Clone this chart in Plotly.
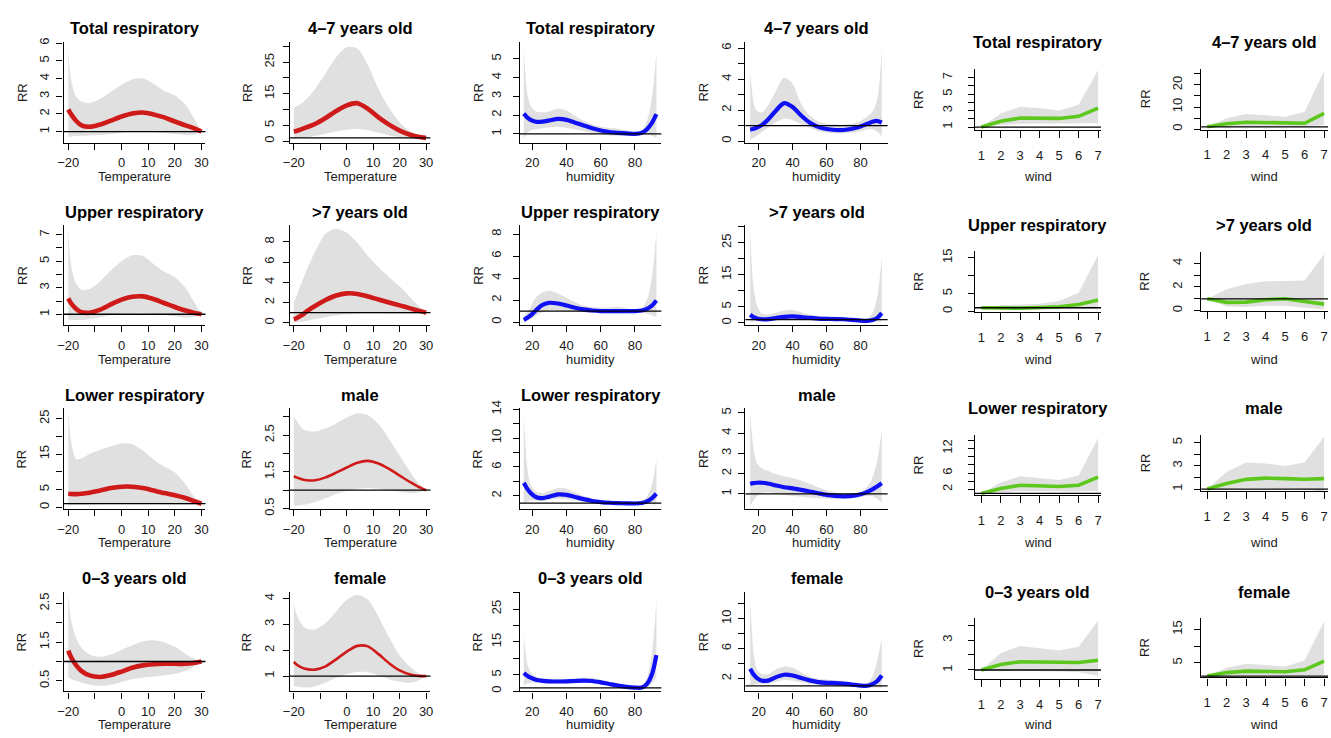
import plotly.graph_objects as go

FIG_W, FIG_H = 1331, 738
FONT = "Liberation Sans, Arial, Helvetica, sans-serif"
TXT = "#1a1a1a"
BAND = "#e0e0e0"
RED = "#cf1a1a"
BLUE = "#1010f5"
GREEN = "#5cc81e"

# ---------------- x grids and tick labels ----------------
temperature = [-20, -19, -17, -15, -12, -8, -4, 0, 4, 8, 12, 16, 20, 24, 27, 30]
humidity = [15, 16, 17, 19, 22, 26, 30, 35, 40, 45, 50, 55, 60, 65, 70, 75, 80, 84, 87, 90, 92.5]
wind = [1, 2, 3, 4, 5, 6, 7]

temp_tick_vals = [-20, -10, 0, 10, 20, 30]
temp_tick_text = ["\u221220", "", "0", "10", "20", "30"]
hum_tick_vals = [20, 40, 60, 80]
hum_tick_text = ["20", "40", "60", "80"]
wind_tick_vals = [1, 2, 3, 4, 5, 6, 7]
wind_tick_text = ["1", "2", "3", "4", "5", "6", "7"]

# ---------------- temperature panels ----------------
temp_total_rr = [2.25, 2.0, 1.6, 1.35, 1.27, 1.4, 1.62, 1.85, 2.02, 2.08, 1.97, 1.8, 1.57, 1.35, 1.2, 1.0]
temp_total_lo = [0.7, 0.72, 0.75, 0.76, 0.78, 0.8, 0.86, 0.94, 1.0, 1.02, 0.98, 0.92, 0.86, 0.8, 0.82, 1.0]
temp_total_hi = [5.8, 4.0, 2.95, 2.7, 2.6, 2.85, 3.25, 3.65, 3.95, 4.0, 3.7, 3.3, 3.05, 2.5, 1.8, 1.0]

temp_upper_rr = [2.2, 1.85, 1.4, 1.15, 1.12, 1.35, 1.75, 2.1, 2.32, 2.35, 2.15, 1.85, 1.55, 1.28, 1.12, 1.0]
temp_upper_lo = [0.6, 0.58, 0.56, 0.55, 0.62, 0.78, 0.95, 1.05, 1.1, 1.1, 1.05, 0.95, 0.85, 0.75, 0.8, 1.0]
temp_upper_hi = [7.6, 4.8, 3.3, 2.85, 2.9, 3.5, 4.3, 5.0, 5.45, 5.4, 4.8, 4.2, 3.8, 3.0, 2.0, 1.0]

temp_lower_rr = [3.8, 3.75, 3.7, 3.8, 4.1, 4.7, 5.4, 5.8, 5.8, 5.4, 4.7, 4.0, 3.4, 2.6, 1.8, 1.0]
temp_lower_lo = [0.5, 0.55, 0.6, 0.65, 0.75, 0.85, 0.95, 1.0, 1.05, 1.0, 0.95, 0.85, 0.75, 0.7, 0.8, 1.0]
temp_lower_hi = [27, 19, 13.5, 13.8, 15, 16.2, 17.2, 18, 17.8, 16, 13.5, 11.5, 9.8, 6.5, 3.2, 1.0]

temp_age03_rr = [1.28, 1.12, 0.9, 0.75, 0.64, 0.6, 0.65, 0.74, 0.84, 0.9, 0.93, 0.94, 0.94, 0.94, 0.96, 1.0]
temp_age03_lo = [0.6, 0.55, 0.5, 0.45, 0.4, 0.37, 0.4, 0.47, 0.54, 0.58, 0.61, 0.64, 0.68, 0.76, 0.86, 1.0]
temp_age03_hi = [2.75, 2.1, 1.6, 1.35, 1.18, 1.12, 1.18, 1.3, 1.42, 1.52, 1.55, 1.5, 1.38, 1.2, 1.08, 1.0]

temp_age47_rr = [3.0, 3.2, 3.8, 4.4, 5.4, 7.3, 9.5, 11.3, 12.0, 10.2, 7.5, 5.2, 3.3, 2.0, 1.4, 1.0]
temp_age47_lo = [0.8, 0.9, 1.05, 1.2, 1.6, 2.3, 3.0, 3.6, 3.8, 3.4, 2.6, 1.8, 1.2, 0.8, 0.75, 1.0]
temp_age47_hi = [10.5, 11, 12, 13.5, 16.5, 21.5, 26.5, 29.7, 29.3, 24, 16.5, 10.5, 6, 3, 1.8, 1.0]

temp_age7p_rr = [0.35, 0.45, 0.75, 1.15, 1.65, 2.25, 2.7, 2.9, 2.85, 2.6, 2.3, 2.0, 1.72, 1.42, 1.2, 1.0]
temp_age7p_lo = [0.05, 0.07, 0.12, 0.2, 0.35, 0.55, 0.72, 0.83, 0.9, 0.92, 0.92, 0.9, 0.88, 0.85, 0.88, 1.0]
temp_age7p_hi = [2.0, 2.6, 4.0, 5.3, 7.0, 8.8, 9.3, 8.9, 7.9, 6.6, 5.5, 4.5, 3.6, 2.5, 1.7, 1.0]

temp_male_rr = [1.38, 1.35, 1.3, 1.27, 1.27, 1.35, 1.48, 1.62, 1.75, 1.8, 1.73, 1.58, 1.4, 1.22, 1.1, 1.0]
temp_male_lo = [0.58, 0.58, 0.6, 0.62, 0.68, 0.78, 0.9, 0.98, 1.04, 1.06, 1.04, 1.0, 0.96, 0.92, 0.94, 1.0]
temp_male_hi = [3.0, 2.9, 2.7, 2.62, 2.6, 2.68, 2.82, 2.98, 3.1, 3.05, 2.8, 2.4, 1.95, 1.5, 1.2, 1.0]

temp_female_rr = [1.55, 1.45, 1.33, 1.27, 1.25, 1.38, 1.65, 1.95, 2.17, 2.15, 1.85, 1.5, 1.22, 1.06, 1.01, 1.0]
temp_female_lo = [0.62, 0.6, 0.57, 0.56, 0.6, 0.75, 0.93, 1.08, 1.16, 1.15, 1.02, 0.88, 0.78, 0.74, 0.82, 1.0]
temp_female_hi = [3.8, 3.4, 3.0, 2.82, 2.8, 3.05, 3.5, 3.95, 4.15, 3.95, 3.3, 2.5, 1.8, 1.35, 1.12, 1.0]

# ---------------- humidity panels ----------------
hum_total_rr = [2.08, 1.98, 1.88, 1.75, 1.65, 1.65, 1.72, 1.8, 1.75, 1.6, 1.45, 1.3, 1.18, 1.1, 1.06, 1.03, 1.0, 1.06, 1.25, 1.6, 2.05]
hum_total_lo = [0.75, 0.9, 1.05, 1.2, 1.25, 1.3, 1.35, 1.38, 1.32, 1.25, 1.15, 1.05, 0.98, 0.92, 0.9, 0.88, 0.9, 0.95, 0.98, 0.9, 0.8]
hum_total_hi = [5.6, 4.2, 3.2, 2.5, 2.2, 2.15, 2.2, 2.35, 2.25, 1.95, 1.7, 1.5, 1.38, 1.32, 1.28, 1.2, 1.08, 1.18, 1.7, 3.0, 5.4]

hum_upper_rr = [0.2, 0.28, 0.38, 0.6, 1.05, 1.55, 1.75, 1.68, 1.5, 1.3, 1.15, 1.05, 1.0, 1.0, 1.0, 1.0, 1.0, 1.05, 1.2, 1.5, 1.95]
hum_upper_lo = [0.05, 0.08, 0.12, 0.25, 0.55, 0.9, 1.05, 1.05, 1.0, 0.95, 0.9, 0.85, 0.8, 0.78, 0.78, 0.8, 0.85, 0.85, 0.75, 0.6, 0.45]
hum_upper_hi = [0.5, 0.7, 0.9, 1.4, 2.2, 2.7, 2.85, 2.6, 2.2, 1.8, 1.5, 1.35, 1.3, 1.32, 1.38, 1.25, 1.15, 1.3, 2.0, 4.2, 8.2]

hum_lower_rr = [3.8, 3.4, 3.0, 2.4, 1.85, 1.7, 1.9, 2.2, 2.15, 1.85, 1.55, 1.3, 1.15, 1.05, 1.0, 0.97, 0.95, 1.02, 1.25, 1.7, 2.3]
hum_lower_lo = [0.8, 1.0, 1.2, 1.35, 1.3, 1.3, 1.45, 1.6, 1.55, 1.4, 1.2, 1.05, 0.95, 0.88, 0.82, 0.8, 0.8, 0.85, 0.9, 0.85, 0.8]
hum_lower_hi = [13, 9, 6, 3.6, 2.6, 2.4, 2.7, 3.1, 3.0, 2.5, 2.0, 1.65, 1.45, 1.35, 1.3, 1.25, 1.2, 1.35, 1.9, 3.6, 7.0]

hum_age03_rr = [5.5, 5.1, 4.7, 4.1, 3.5, 3.15, 3.0, 2.95, 3.0, 3.1, 3.2, 3.1, 2.7, 2.2, 1.7, 1.3, 1.08, 1.1, 2.2, 5.3, 11.0]
hum_age03_lo = [1.7, 2.0, 2.3, 2.6, 2.6, 2.45, 2.35, 2.3, 2.35, 2.45, 2.55, 2.45, 2.1, 1.65, 1.25, 0.95, 0.78, 0.8, 1.2, 2.4, 4.3]
hum_age03_hi = [17, 12, 8.5, 5.8, 4.4, 3.9, 3.8, 3.75, 3.8, 3.95, 4.1, 4.0, 3.5, 2.9, 2.3, 1.8, 1.5, 1.7, 4.0, 12, 28]

hum_age47_rr = [0.75, 0.77, 0.8, 0.87, 1.05, 1.45, 1.95, 2.45, 2.2, 1.65, 1.2, 0.92, 0.78, 0.72, 0.72, 0.8, 0.95, 1.12, 1.25, 1.3, 1.2]
hum_age47_lo = [0.1, 0.15, 0.22, 0.35, 0.6, 0.9, 1.2, 1.45, 1.35, 1.1, 0.85, 0.65, 0.55, 0.5, 0.5, 0.55, 0.65, 0.75, 0.78, 0.6, 0.3]
hum_age47_hi = [4.6, 3.3, 2.5, 1.95, 1.85, 2.4, 3.2, 4.1, 3.7, 2.4, 1.65, 1.28, 1.12, 1.06, 1.06, 1.12, 1.3, 1.6, 1.9, 2.8, 6.0]

hum_age7p_rr = [2.5, 2.1, 1.75, 1.35, 1.1, 1.15, 1.45, 1.85, 2.0, 1.8, 1.5, 1.3, 1.2, 1.15, 1.1, 0.9, 0.65, 0.6, 0.85, 1.6, 3.0]
hum_age7p_lo = [0.25, 0.3, 0.35, 0.4, 0.45, 0.55, 0.75, 0.95, 1.0, 0.95, 0.85, 0.75, 0.7, 0.65, 0.6, 0.45, 0.3, 0.28, 0.3, 0.35, 0.4]
hum_age7p_hi = [29, 18, 11, 5.5, 2.8, 2.6, 3.1, 3.8, 4.0, 3.3, 2.6, 2.2, 2.0, 1.9, 1.8, 1.5, 1.25, 1.4, 3.0, 8.5, 21]

hum_male_rr = [1.5, 1.52, 1.53, 1.55, 1.55, 1.5, 1.42, 1.33, 1.27, 1.2, 1.12, 1.03, 0.95, 0.9, 0.88, 0.9, 0.98, 1.1, 1.22, 1.38, 1.52]
hum_male_lo = [0.4, 0.55, 0.68, 0.9, 1.05, 1.08, 1.02, 0.95, 0.9, 0.86, 0.82, 0.78, 0.76, 0.75, 0.75, 0.77, 0.85, 0.9, 0.88, 0.75, 0.55]
hum_male_hi = [5.0, 4.0, 3.2, 2.5, 2.25, 2.12, 1.98, 1.87, 1.78, 1.65, 1.5, 1.33, 1.18, 1.07, 1.02, 1.03, 1.08, 1.35, 1.8, 2.7, 4.2]

hum_female_rr = [3.3, 2.9, 2.55, 2.05, 1.7, 1.75, 2.15, 2.5, 2.4, 2.05, 1.75, 1.52, 1.42, 1.38, 1.3, 1.18, 1.05, 1.03, 1.25, 1.7, 2.4]
hum_female_lo = [0.8, 1.0, 1.15, 1.3, 1.25, 1.3, 1.55, 1.8, 1.7, 1.5, 1.3, 1.18, 1.1, 1.02, 0.96, 0.9, 0.85, 0.82, 0.8, 0.78, 0.72]
hum_female_hi = [12.5, 8.5, 5.5, 3.2, 2.6, 2.6, 3.2, 3.6, 3.45, 2.85, 2.25, 1.95, 1.85, 1.75, 1.65, 1.45, 1.3, 1.4, 2.2, 4.5, 7.5]

# ---------------- wind panels ----------------
wind_total_rr = [1.0, 1.7, 2.1, 2.1, 2.05, 2.3, 3.3]
wind_total_lo = [1.0, 1.25, 1.4, 1.4, 1.4, 1.4, 1.45]
wind_total_hi = [1.0, 2.65, 3.45, 3.3, 3.0, 3.7, 7.9]

wind_upper_rr = [1.0, 0.9, 0.9, 1.05, 1.3, 1.9, 3.15]
wind_upper_lo = [1.0, 0.5, 0.45, 0.5, 0.6, 0.7, 0.65]
wind_upper_hi = [1.0, 1.7, 1.9, 2.1, 2.9, 5.2, 15.8]

wind_lower_rr = [1.0, 2.2, 3.0, 2.9, 2.7, 3.0, 5.0]
wind_lower_lo = [1.0, 1.35, 1.55, 1.55, 1.5, 1.5, 1.6]
wind_lower_hi = [1.0, 3.7, 5.2, 4.8, 4.3, 5.4, 14.6]

wind_age03_rr = [1.0, 1.37, 1.55, 1.56, 1.52, 1.5, 1.65]
wind_age03_lo = [1.0, 0.92, 0.95, 0.95, 0.9, 0.85, 0.61]
wind_age03_hi = [1.0, 2.13, 2.6, 2.45, 2.3, 2.55, 4.3]

wind_age47_rr = [1.0, 2.4, 3.1, 2.9, 2.4, 2.6, 7.1]
wind_age47_lo = [1.0, 0.8, 1.2, 1.2, 0.9, 0.8, 1.9]
wind_age47_hi = [1.0, 4.9, 6.8, 6.2, 5.6, 7.9, 26.4]

wind_age7p_rr = [1.0, 0.7, 0.72, 0.92, 1.0, 0.75, 0.55]
wind_age7p_lo = [1.0, 0.35, 0.3, 0.4, 0.4, 0.25, 0.1]
wind_age7p_hi = [1.0, 1.8, 2.26, 2.48, 2.5, 2.55, 4.77]

wind_male_rr = [1.0, 1.48, 1.84, 1.95, 1.9, 1.85, 1.9]
wind_male_lo = [1.0, 1.0, 1.1, 1.1, 1.05, 1.0, 0.75]
wind_male_hi = [1.0, 2.5, 3.3, 3.2, 3.0, 3.3, 5.5]

wind_female_rr = [1.0, 2.06, 2.5, 2.4, 2.3, 2.9, 5.5]
wind_female_lo = [1.0, 1.1, 1.3, 1.3, 1.2, 1.2, 1.3]
wind_female_hi = [1.0, 3.5, 4.7, 4.3, 3.9, 5.7, 17.4]

# ---------------- panel titles ----------------
titles_a = ["Total respiratory", "Upper respiratory", "Lower respiratory", "0\u20133 years old"]
titles_b = ["4\u20137 years old", ">7 years old", "male", "female"]


def yt(vals, labelled):
    return dict(vals=vals, text=[(("%g" % v) if v in labelled else "") for v in vals])


def fx(px):
    return min(max(px / FIG_W, 0.0), 1.0)


def fy(py):
    return 1 - py / FIG_H


# ---------------- layout (pixel geometry) ----------------
TEMP_ROWS = [(33.5, 136.5), (221, 323), (408.3, 511), (596, 697.5)]
TEMP_TITLE_Y = [19.5, 207, 394.3, 581.5]
WIND5_ROWS = [(61, 124), (247.3, 310), (435.7, 496.7), (622.3, 685)]
WIND6_ROWS = [(61, 123.3), (248.3, 309), (435.7, 493), (622.7, 683.3)]
WIND_TITLE_Y = [34, 220.7, 407.7, 595.7]
XLAB_Y = [171.5, 358, 545, 731]

columns = [
    dict(x=temperature, xt=temp_tick_vals, xl=temp_tick_text, xlabel="Temperature", color=RED,
         px=(57, 200), xr=(-21.75, 31.5), rows=TEMP_ROWS, ty=TEMP_TITLE_Y, rrx=15, smooth=True,
         titles=titles_a, lw=[4.6, 4.6, 4.6, 4.6], ystand=2, xstand=2, xticklen=6,
         panels=[(temp_total_rr, temp_total_lo, temp_total_hi, [0.38, 6.08], yt([1, 2, 3, 4, 5, 6], [1, 2, 3, 4, 5, 6])),
                 (temp_upper_rr, temp_upper_lo, temp_upper_hi, [0.19, 7.72], yt([1, 2, 3, 4, 5, 6, 7], [1, 3, 5, 7])),
                 (temp_lower_rr, temp_lower_lo, temp_lower_hi, [-0.47, 27.87], yt([0, 5, 10, 15, 20, 25], [0, 5, 15, 25])),
                 (temp_age03_rr, temp_age03_lo, temp_age03_hi, [0.227, 2.796], yt([0.5, 1, 1.5, 2, 2.5], [0.5, 1.5, 2.5]))]),
    dict(x=temperature, xt=temp_tick_vals, xl=temp_tick_text, xlabel="Temperature", color=RED,
         px=(285, 426.7), xr=(-21.5, 31.65), rows=TEMP_ROWS, ty=TEMP_TITLE_Y, rrx=241.7, smooth=True,
         titles=titles_b, lw=[4.6, 4.6, 2.6, 2.6], ystand=4, xstand=2, xticklen=6,
         panels=[(temp_age47_rr, temp_age47_lo, temp_age47_hi, [-0.46, 31.44], yt([0, 5, 10, 15, 20, 25, 30], [0, 5, 15, 25])),
                 (temp_age7p_rr, temp_age7p_lo, temp_age7p_hi, [-0.22, 9.64], yt([0, 2, 4, 6, 8], [0, 2, 4, 6, 8])),
                 (temp_male_rr, temp_male_lo, temp_male_hi, [0.49, 3.23], yt([0.5, 1, 1.5, 2, 2.5, 3], [0.5, 1.5, 2.5])),
                 (temp_female_rr, temp_female_lo, temp_female_hi, [0.41, 4.25], yt([1, 2, 3, 4], [1, 2, 3, 4]))]),
    dict(x=humidity, xt=hum_tick_vals, xl=hum_tick_text, xlabel="humidity", color=BLUE,
         px=(516.7, 659.3), xr=(12.7, 95.4), rows=TEMP_ROWS, ty=TEMP_TITLE_Y, rrx=474.3, smooth=True,
         titles=titles_a, lw=[4.2, 4.2, 4.2, 4.2], ystand=6, xstand=2, xticklen=6,
         panels=[(hum_total_rr, hum_total_lo, hum_total_hi, [0.54, 5.91], yt([1, 2, 3, 4, 5], [1, 2, 3, 4, 5])),
                 (hum_upper_rr, hum_upper_lo, hum_upper_hi, [-0.27, 8.8], yt([0, 2, 4, 6, 8], [0, 2, 4, 6, 8])),
                 (hum_lower_rr, hum_lower_lo, hum_lower_hi, [0.2, 14.09], yt([2, 4, 6, 8, 10, 12, 14], [2, 6, 10, 14])),
                 (hum_age03_rr, hum_age03_lo, hum_age03_hi, [-0.06, 30.15], yt([0, 5, 10, 15, 20, 25, 30], [0, 5, 15, 25]))]),
    dict(x=humidity, xt=hum_tick_vals, xl=hum_tick_text, xlabel="humidity", color=BLUE,
         px=(744, 887.3), xr=(12.2, 95.95), rows=TEMP_ROWS, ty=TEMP_TITLE_Y, rrx=701.7, smooth=True,
         titles=titles_b, lw=[4.2, 4.2, 4.2, 4.2], ystand=2, xstand=2, xticklen=6,
         panels=[(hum_age47_rr, hum_age47_lo, hum_age47_hi, [-0.09, 6.41], yt([0, 1, 2, 3, 4, 5, 6], [0, 2, 4, 6])),
                 (hum_age7p_rr, hum_age7p_lo, hum_age7p_hi, [-0.7, 30.5], yt([0, 5, 10, 15, 20, 25, 30], [0, 5, 15, 25])),
                 (hum_male_rr, hum_male_lo, hum_male_hi, [0.26, 5.21], yt([1, 2, 3, 4, 5], [1, 2, 3, 4, 5])),
                 (hum_female_rr, hum_female_lo, hum_female_hi, [0.27, 13.58], yt([2, 4, 6, 8, 10, 12], [2, 6, 10]))]),
    dict(x=wind, xt=wind_tick_vals, xl=wind_tick_text, xlabel="wind", color=GREEN,
         px=(975, 1102.3), xr=(0.66, 7.15), rows=WIND5_ROWS, ty=WIND_TITLE_Y, rrx=918.3, smooth=False,
         titles=titles_a, lw=[3.6, 3.6, 3.6, 3.6], ystand=10, xstand=6, xticklen=7,
         panels=[(wind_total_rr, wind_total_lo, wind_total_hi, [0.61, 8.07], yt([1, 2, 3, 4, 5, 6, 7], [1, 3, 5, 7])),
                 (wind_upper_rr, wind_upper_lo, wind_upper_hi, [-0.27, 16.92], yt([0, 5, 10, 15], [0, 5, 15])),
                 (wind_lower_rr, wind_lower_lo, wind_lower_hi, [0.63, 15.26], yt([2, 4, 6, 8, 10, 12, 14], [2, 6, 12])),
                 (wind_age03_rr, wind_age03_lo, wind_age03_hi, [0.39, 4.48], yt([1, 2, 3, 4], [1, 3]))]),
    dict(x=wind, xt=wind_tick_vals, xl=wind_tick_text, xlabel="wind", color=GREEN,
         px=(1203.3, 1331), xr=(0.694, 7.2), rows=WIND6_ROWS, ty=WIND_TITLE_Y, rrx=1146.7, smooth=False,
         titles=titles_b, lw=[3.6, 3.6, 3.6, 3.6], ystand=7, xstand=6, xticklen=7, tcx=1266.7,
         panels=[(wind_age47_rr, wind_age47_lo, wind_age47_hi, [-0.27, 27.4], yt([0, 5, 10, 15, 20, 25], [0, 10, 20])),
                 (wind_age7p_rr, wind_age7p_lo, wind_age7p_hi, [-0.06, 4.97], yt([0, 1, 2, 3, 4], [0, 2, 4])),
                 (wind_male_rr, wind_male_lo, wind_male_hi, [0.81, 5.64], yt([1, 2, 3, 4, 5], [1, 3, 5])),
                 (wind_female_rr, wind_female_lo, wind_female_hi, [0.59, 18.41], yt([5, 10, 15], [5, 15]))]),
]

fig = go.Figure()
shapes, annos = [], []
axis_common = dict(showline=True, linecolor="black", linewidth=1.3, ticks="outside", tickwidth=1.3,
                   tickcolor="black", showgrid=False, zeroline=False, fixedrange=True,
                   tickfont=dict(family=FONT, size=13, color=TXT))

n = 0
for col in columns:
    x0, x1 = col["px"]
    shp = "spline" if col["smooth"] else "linear"
    for r, (rr, lo, hi, yr, ytk) in enumerate(col["panels"]):
        n += 1
        xa = "x" if n == 1 else f"x{n}"
        ya = "y" if n == 1 else f"y{n}"
        top, bot = col["rows"][r]
        fig.add_trace(go.Scatter(x=col["x"], y=lo, xaxis=xa, yaxis=ya, mode="lines",
                                 line=dict(width=0, color="rgba(0,0,0,0)", shape=shp, smoothing=0.8),
                                 hoverinfo="skip", showlegend=False))
        fig.add_trace(go.Scatter(x=col["x"], y=hi, xaxis=xa, yaxis=ya, mode="lines", fill="tonexty",
                                 fillcolor=BAND,
                                 line=dict(width=0, color="rgba(0,0,0,0)", shape=shp, smoothing=0.8),
                                 hoverinfo="skip", showlegend=False))
        fig.add_trace(go.Scatter(x=col["x"], y=rr, xaxis=xa, yaxis=ya, mode="lines",
                                 line=dict(width=col["lw"][r], color=col["color"], shape=shp, smoothing=0.8),
                                 hoverinfo="skip", showlegend=False))
        kx = "xaxis" if n == 1 else f"xaxis{n}"
        ky = "yaxis" if n == 1 else f"yaxis{n}"
        fig.layout[kx] = dict(axis_common, domain=[fx(x0), fx(x1)], range=list(col["xr"]),
                              anchor=ya, tickvals=col["xt"], ticktext=col["xl"], ticklen=col["xticklen"],
                              ticklabelstandoff=col["xstand"])
        fig.layout[ky] = dict(axis_common, domain=[fy(bot), fy(top)], range=yr,
                              anchor=xa, tickvals=ytk["vals"], ticktext=ytk["text"], tickangle=-90,
                              ticklen=6, ticklabelstandoff=col["ystand"])
        shapes.append(dict(type="line", xref=f"{xa} domain", yref=ya, x0=0, x1=1, y0=1, y1=1,
                           line=dict(color="black", width=1.3), layer="above"))
        cxp = col.get("tcx", (x0 + x1) / 2)
        annos.append(dict(text="<b>" + col["titles"][r] + "</b>", x=fx(cxp), y=fy(col["ty"][r]),
                          xref="paper", yref="paper", showarrow=False, xanchor="center", yanchor="middle",
                          font=dict(family=FONT, size=16.5, color="black")))
        annos.append(dict(text=col["xlabel"], x=fx(cxp), y=fy(XLAB_Y[r]),
                          xref="paper", yref="paper", showarrow=False, xanchor="center", yanchor="middle",
                          font=dict(family=FONT, size=13, color=TXT)))
        annos.append(dict(text="RR", x=fx(col["rrx"]), y=fy((top + bot) / 2), textangle=-90,
                          xref="paper", yref="paper", showarrow=False, xanchor="center", yanchor="middle",
                          font=dict(family=FONT, size=13, color=TXT)))

fig.update_layout(width=FIG_W, height=FIG_H, margin=dict(l=0, r=0, t=0, b=0), autosize=False,
                  paper_bgcolor="white", plot_bgcolor="white", showlegend=False,
                  shapes=shapes, annotations=annos)

# a tiny synchronous script (inline data URL, no network) that removes the default page margin
NO_MARGIN = ("data:text/javascript,document.body.style.margin='0px';"
             "document.documentElement.style.overflow='hidden';//.js")
fig.write_html("out.html", config={"displayModeBar": False}, include_mathjax=NO_MARGIN)
